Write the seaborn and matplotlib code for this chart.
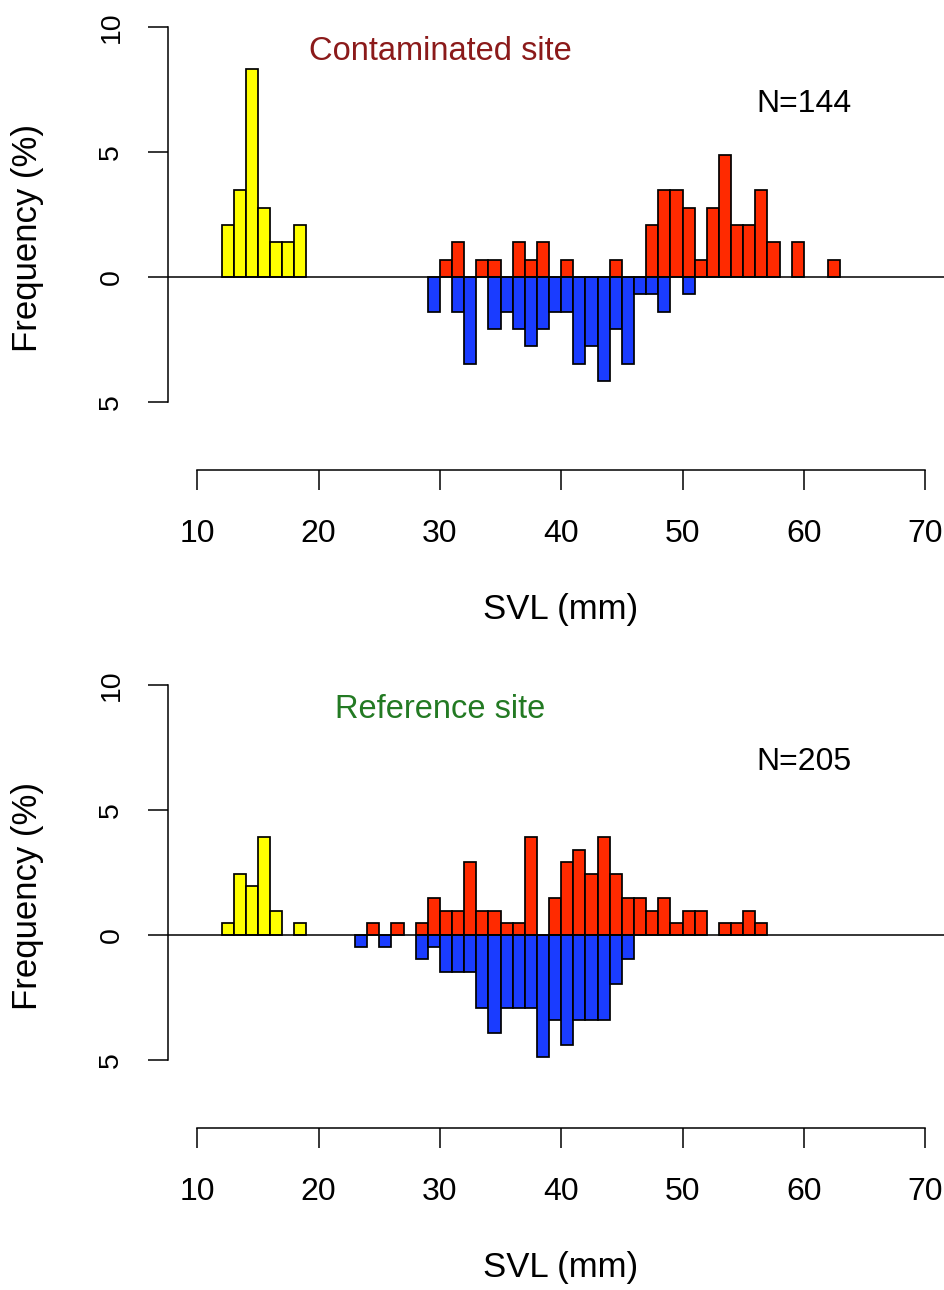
import numpy as np
import pandas as pd
import matplotlib
matplotlib.use("Agg")
import matplotlib.pyplot as plt
import seaborn as sns

# Snout-vent length classes (lower bound of each 1-mm class) and counts per class
# Contaminated site
cont_n_total = 144
cont_juv_svl = [12, 13, 14, 15, 16, 17, 18]
cont_juv_n = [3, 5, 12, 4, 2, 2, 3]
cont_fem_svl = [30, 31, 33, 34, 36, 37, 38, 40, 44, 47, 48, 49, 50, 51, 52, 53,
                54, 55, 56, 57, 59, 62]
cont_fem_n = [1, 2, 1, 1, 2, 1, 2, 1, 1, 3, 5, 5, 4, 1, 4, 7, 3, 3, 5, 2, 2, 1]
cont_male_svl = [29, 31, 32, 34, 35, 36, 37, 38, 39, 40, 41, 42, 43, 44, 45, 46,
                 47, 48, 50]
cont_male_n = [2, 2, 5, 3, 2, 3, 4, 3, 2, 2, 5, 4, 6, 3, 5, 1, 1, 2, 1]

# Reference site
ref_n_total = 205
ref_juv_svl = [12, 13, 14, 15, 16, 18]
ref_juv_n = [1, 5, 4, 8, 2, 1]
ref_fem_svl = [24, 26, 28, 29, 30, 31, 32, 33, 34, 35, 36, 37, 39, 40, 41, 42,
               43, 44, 45, 46, 47, 48, 49, 50, 51, 53, 54, 55, 56]
ref_fem_n = [1, 1, 1, 3, 2, 2, 6, 2, 2, 1, 1, 8, 3, 6, 7, 5, 8, 5, 3, 3, 2, 3,
             1, 2, 2, 1, 1, 2, 1]
ref_male_svl = [23, 25, 28, 29, 30, 31, 32, 33, 34, 35, 36, 37, 38, 39, 40, 41,
                42, 43, 44, 45]
ref_male_n = [1, 1, 2, 1, 3, 3, 3, 6, 8, 6, 6, 6, 10, 7, 9, 7, 7, 7, 4, 2]

x_ticks = [10, 20, 30, 40, 50, 60, 70]
y_ticks = [-5, 0, 5, 10]
y_tick_labels = ["5", "0", "5", "10"]

COL_JUV = "#FFFF00"
COL_FEM = "#FF2A00"
COL_MALE = "#1A3CFF"


def build_frame(juv, fem, male, n_total):
    rows = []
    for (svl, n), group, sign in ((juv, "juvenile", 1), (fem, "female", 1),
                                  (male, "male", -1)):
        for s, c in zip(svl, n):
            rows.append({"svl": s + 0.5, "pct": sign * c / n_total * 100,
                         "group": group})
    return pd.DataFrame(rows)


panels = [
    dict(df=build_frame((cont_juv_svl, cont_juv_n), (cont_fem_svl, cont_fem_n),
                        (cont_male_svl, cont_male_n), cont_n_total),
         title="Contaminated site", title_color="#8B1A1A",
         ntext=f"N={cont_n_total}"),
    dict(df=build_frame((ref_juv_svl, ref_juv_n), (ref_fem_svl, ref_fem_n),
                        (ref_male_svl, ref_male_n), ref_n_total),
         title="Reference site", title_color="#237A23",
         ntext=f"N={ref_n_total}"),
]

sns.set_theme(style="ticks")
plt.rcParams["font.family"] = ["Liberation Sans", "DejaVu Sans"]
plt.rcParams["text.color"] = "black"
plt.rcParams["axes.labelcolor"] = "black"

fig = plt.figure(figsize=(9.45, 12.9), dpi=100)
W, H = 945, 1290
ax_left, ax_right = 168, 945
panel_tops = [10, 668]
panel_h = 490

colors = {"juvenile": COL_JUV, "female": COL_FEM, "male": COL_MALE}

for p, top in zip(panels, panel_tops):
    ax = fig.add_axes([ax_left / W, 1 - (top + panel_h) / H,
                       (ax_right - ax_left) / W, panel_h / H])
    df = p["df"]
    for group in ["juvenile", "female", "male"]:
        sub = df[df["group"] == group]
        lo = int(np.floor(sub["svl"].min()))
        hi = int(np.ceil(sub["svl"].max()))
        sns.histplot(data=sub, x="svl", weights="pct",
                     binwidth=1, binrange=(lo, hi), color=colors[group],
                     edgecolor="black", linewidth=1.25, alpha=1, ax=ax)

    # drop empty classes so only occupied bars keep an outline
    for patch in list(ax.patches):
        if abs(patch.get_height()) < 1e-9:
            patch.remove()

    ax.axhline(0, color="black", lw=1.1, zorder=3)
    ax.set_xlim(7.585, 71.64)
    ax.set_ylim(-8.92, 10.68)

    ax.spines["top"].set_visible(False)
    ax.spines["right"].set_visible(False)
    ax.spines["left"].set_bounds(-5, 10)
    ax.spines["bottom"].set_position(("data", -7.7))
    ax.spines["bottom"].set_bounds(10, 70)
    for s in ("left", "bottom"):
        ax.spines[s].set_linewidth(1.1)
        ax.spines[s].set_color("black")

    ax.set_xticks(x_ticks)
    ax.set_xticklabels([str(t) for t in x_ticks])
    ax.set_yticks(y_ticks)
    ax.set_yticklabels(y_tick_labels, rotation=90, va="center")
    ax.tick_params(axis="both", direction="out", length=14.4, width=1.1,
                   color="black", labelcolor="black")
    ax.tick_params(axis="x", labelsize=23, pad=21)
    ax.tick_params(axis="y", labelsize=20.5, pad=17)

    ax.set_xlabel("SVL (mm)", fontsize=25, va="center", color="black")
    ax.xaxis.set_label_coords((561 - ax_left) / (ax_right - ax_left),
                              (panel_h - 609 + 10) / panel_h)
    ax.set_ylabel("Frequency (%)", fontsize=25, va="center", color="black")
    ax.yaxis.set_label_coords((27 - ax_left) / (ax_right - ax_left),
                              (panel_h - 238 + 10) / panel_h)

    ax.text(30, 9.0, p["title"], color=p["title_color"], fontsize=23.5,
            ha="center", va="center")
    ax.text(60, 6.9, p["ntext"], color="black", fontsize=23,
            ha="center", va="center")
    ax.set_facecolor("white")
    ax.grid(False)

fig.patch.set_facecolor("white")
fig.savefig("out.png", dpi=100, facecolor="white")
